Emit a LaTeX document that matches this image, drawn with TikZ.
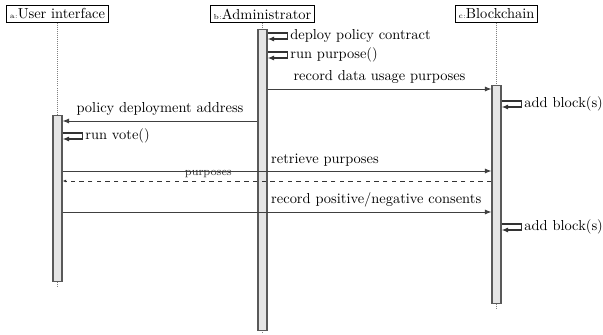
\documentclass[tikz,border=0pt]{standalone}
\usepackage{tikz}
\usetikzlibrary{arrows.meta, positioning}
\tikzset{>={Latex[length=4.5pt,width=3.5pt]}}
\def\unit{0.0243cm}

\tikzset{
  inst/.style={draw, fill=white, inner sep=2.2pt, minimum height=16*\unit},
  life/.style={densely dotted, gray, line width=0.4pt},
  actbar/.style={draw=black!65, fill=black!10, line width=0.8pt, minimum width=9*\unit, inner sep=0pt, anchor=north},
  msg/.style={->, line width=0.6pt, draw=black!75, text=black},
  selfmsg/.style={->, line width=0.9pt, draw=black!80, text=black},
  selflbl/.style={midway, right=0pt, inner sep=1.5pt},
  reply/.style={->, >={Latex[length=2.5pt,width=2pt]}, dashed, line width=0.5pt, draw=black!80, text=black!80},
}

\begin{document}
\begin{tikzpicture}[x=\unit, y=-\unit]
\useasboundingbox (0,0) rectangle (603,335);

% instances
\node[inst] (a) at (57.5,14) {{\tiny a:}User interface};
\node[inst] (b) at (262.5,14) {{\tiny b:}Administrator};
\node[inst] (c) at (496.5,14) {{\tiny c:}Blockchain};

% lifelines
\coordinate (aend) at (57.5,287);
\coordinate (bend) at (262.5,334);
\coordinate (cend) at (496.5,310);
\draw[life] (a.south) -- (aend);
\draw[life] (b.south) -- (bend);
\draw[life] (c.south) -- (cend);

% activation bars
\node[actbar, minimum height=166*\unit] (ba) at (57.5,115) {};
\node[actbar, minimum height=301*\unit] (bb) at (262.5,29) {};
\node[actbar, minimum height=218*\unit] (bc) at (496.5,85) {};

% message levels
\coordinate (deploy) at (0,33);
\coordinate (purpose) at (0,52);
\coordinate (record) at (0,89);
\coordinate (block1) at (0,101);
\coordinate (address) at (0,121);
\coordinate (vote) at (0,133);
\coordinate (retrieve) at (0,171);
\coordinate (answer) at (0,181);
\coordinate (consent) at (0,212);
\coordinate (block2) at (0,224);

% self calls
\draw[selfmsg] (bb.east |- deploy) -- ++(20,0) -- ++(0,6) node[selflbl] {deploy policy contract} -- ++(-20,0);
\draw[selfmsg] (bb.east |- purpose) -- ++(20,0) -- ++(0,6) node[selflbl] {run purpose()} -- ++(-20,0);
\draw[selfmsg] (bc.east |- block1) -- ++(20,0) -- ++(0,6) node[selflbl] {add block(s)} -- ++(-20,0);
\draw[selfmsg] (ba.east |- vote) -- ++(20,0) -- ++(0,6) node[selflbl] {run vote()} -- ++(-20,0);
\draw[selfmsg] (bc.east |- block2) -- ++(20,0) -- ++(0,6) node[selflbl] {add block(s)} -- ++(-20,0);

% messages
\draw[msg] (bb.east |- record) -- (bc.west |- record) node[midway, above] {record data usage purposes};
\draw[msg] (bb.west |- address) -- (ba.east |- address) node[midway, above] {policy deployment address};
\draw[msg] (ba.east |- retrieve) -- (bc.west |- retrieve);
\node[above right=0pt and -1pt of bb.east |- retrieve] (retlbl) {retrieve purposes};
\draw[reply] (bc.west |- answer) -- (ba.east |- answer) node[pos=0.66, above=-1pt, font=\footnotesize] {purposes};
\draw[msg] (ba.east |- consent) -- (bc.west |- consent);
\node[above right=0pt and -1pt of bb.east |- consent] (conlbl) {record positive/negative consents};

\end{tikzpicture}
\end{document}
